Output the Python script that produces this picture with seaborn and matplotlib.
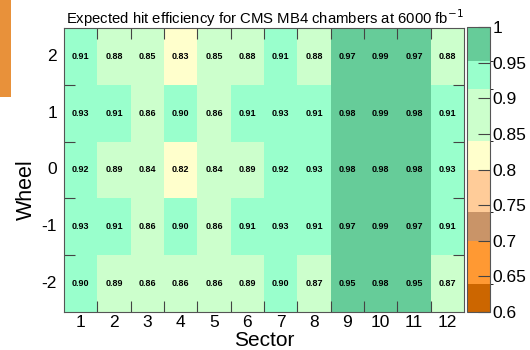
import numpy as np
import pandas as pd
import matplotlib
matplotlib.use("Agg")
import matplotlib.pyplot as plt
import matplotlib.colors as mcolors
import matplotlib.patches as mpatches
from matplotlib.cm import ScalarMappable
import seaborn as sns

# ---- data ----
sectors = [str(i) for i in range(1, 13)]
wheels = ["2", "1", "0", "-1", "-2"]
wheel_p2 = [0.91, 0.88, 0.85, 0.83, 0.85, 0.88, 0.91, 0.88, 0.97, 0.99, 0.97, 0.88]
wheel_p1 = [0.93, 0.91, 0.86, 0.90, 0.86, 0.91, 0.93, 0.91, 0.98, 0.99, 0.98, 0.91]
wheel_0 = [0.92, 0.89, 0.84, 0.82, 0.84, 0.89, 0.92, 0.93, 0.98, 0.98, 0.98, 0.93]
wheel_m1 = [0.93, 0.91, 0.86, 0.90, 0.86, 0.91, 0.93, 0.91, 0.97, 0.99, 0.97, 0.91]
wheel_m2 = [0.90, 0.89, 0.86, 0.86, 0.86, 0.89, 0.90, 0.87, 0.95, 0.98, 0.95, 0.87]
cbar_ticks = [0.6, 0.65, 0.7, 0.75, 0.8, 0.85, 0.9, 0.95, 1.0]
cbar_labels = ["0.6", "0.65", "0.7", "0.75", "0.8", "0.85", "0.9", "0.95", "1"]

df = pd.DataFrame([wheel_p2, wheel_p1, wheel_0, wheel_m1, wheel_m2],
                  index=wheels, columns=sectors)

palette = ["#CC6600", "#FF9933", "#C99468", "#FFCC99",
           "#FFFFCC", "#CCFFCC", "#99FFCC", "#66CC99"]
cmap = mcolors.ListedColormap(palette)
data_bounds = [0.6, 0.64, 0.70, 0.74, 0.80, 0.835, 0.895, 0.945, 1.0]
norm = mcolors.BoundaryNorm(data_bounds, cmap.N)
bar_bounds = [0.6, 0.64, 0.70, 0.74, 0.80, 0.84, 0.913, 0.952, 1.0]
bar_norm = mcolors.BoundaryNorm(bar_bounds, cmap.N)

plt.rcParams["font.family"] = ["Liberation Sans", "DejaVu Sans"]

W, H = 530, 350
fig = plt.figure(figsize=(W / 100, H / 100), dpi=100)
fig.patch.set_facecolor("white")

# orange strip at the top left edge
fig.add_artist(mpatches.Rectangle((0, 1 - 97 / H), 11 / W, 97 / H,
                                  transform=fig.transFigure,
                                  color="#E8913A", lw=0))

ax = fig.add_axes([64 / W, 1 - 312 / H, 400 / W, 284 / H])
cax = fig.add_axes([467 / W, 1 - 312 / H, 23 / W, 285 / H])

sns.heatmap(df, ax=ax, cmap=cmap, norm=norm, cbar=False,
            annot=True, fmt=".2f",
            annot_kws={"color": "black", "fontsize": 6.5, "fontweight": "bold"})

for s in ax.spines.values():
    s.set_visible(True)
    s.set_color("#555555")
    s.set_linewidth(0.8)

ax.set_xticks(np.arange(len(sectors)) + 0.5)
ax.set_xticklabels(sectors, rotation=0, fontsize=12.5)
ax.set_yticks(np.arange(len(wheels)) + 0.5)
ax.set_yticklabels(wheels, rotation=0, fontsize=12.5)
ax.tick_params(axis="x", which="major", length=0, pad=2)
ax.tick_params(axis="y", which="major", length=0, pad=5)
ax.set_xticks(np.arange(1, len(sectors)), minor=True)
ax.set_yticks(np.arange(1, len(wheels)), minor=True)
ax.tick_params(axis="both", which="minor", direction="in", length=8,
               width=0.8, color="#444444",
               top=True, bottom=True, left=True, right=True)
ax.set_xlabel("Sector", fontsize=15)
ax.xaxis.set_label_coords(0.5, -0.068)
ax.set_ylabel("Wheel", fontsize=15.5)
ax.yaxis.set_label_coords(-0.068, 0.43)
ax.set_title("Expected hit efficiency for CMS MB4 chambers at 6000 fb$^{-1}$",
             fontsize=10.7, loc="left", pad=3, x=0.005)

sm = ScalarMappable(norm=bar_norm, cmap=cmap)
cb = fig.colorbar(sm, cax=cax, spacing="proportional", ticks=cbar_ticks)
cb.set_ticklabels(cbar_labels)
cb.outline.set_edgecolor("#555555")
cb.outline.set_linewidth(0.8)
cax.tick_params(direction="in", length=9, width=0.8, color="#444444",
                labelsize=12.5, pad=2)
cax.set_ylim(0.6, 1.0)

fig.savefig("out.png", dpi=100)
